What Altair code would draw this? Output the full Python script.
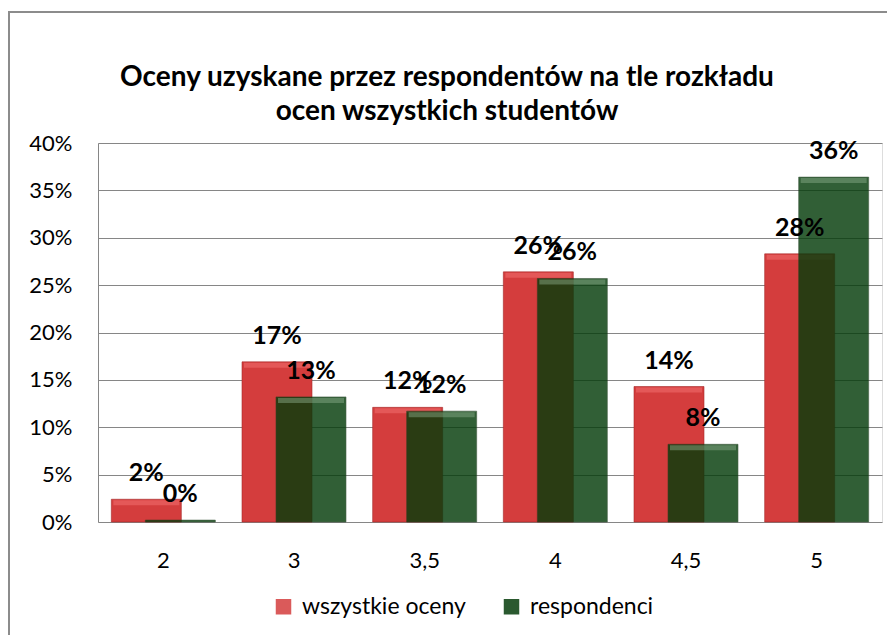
import altair as alt
import pandas as pd

categories = ["2", "3", "3,5", "4", "4,5", "5"]
wszystkie = [0.024, 0.169, 0.121, 0.264, 0.143, 0.283]
respondenci = [0.002, 0.132, 0.117, 0.257, 0.082, 0.364]
series_names = ["wszystkie oceny", "respondenci"]
y_ticks = [0, 0.05, 0.10, 0.15, 0.20, 0.25, 0.30, 0.35, 0.40]
title_lines = ["Oceny uzyskane przez respondentów na tle rozkładu", "ocen wszystkich studentów"]

rows = []
for c, v in zip(categories, wszystkie):
    rows.append({"ocena": c, "seria": series_names[0], "wartosc": v})
for c, v in zip(categories, respondenci):
    rows.append({"ocena": c, "seria": series_names[1], "wartosc": v})
df = pd.DataFrame(rows)

FONT = "Lato"
W, H = 784, 379
AX = 22

color_scale = alt.Scale(domain=series_names, range=["#d43d3d", "#053c0b"])

x_enc = alt.X("ocena:N", sort=categories, title=None,
              scale=alt.Scale(paddingInner=0, paddingOuter=0),
              axis=alt.Axis(labelAngle=0, labelFontSize=AX, labelFont=FONT, labelColor="#000000",
                            labelPadding=28, domain=False, ticks=False, grid=False))
y_enc = alt.Y("wartosc:Q", title=None,
              scale=alt.Scale(domain=[0, 0.4], nice=False),
              axis=alt.Axis(values=y_ticks, format=".0%", labelFontSize=AX, labelFont=FONT,
                            labelColor="#000000", labelPadding=26, ticks=False,
                            domain=True, domainColor="#868686", gridColor="#868686",
                            gridWidth=1))

base = alt.Chart(df)
one = pd.DataFrame({"a": [0]})

frame = alt.Chart(one).mark_rect(
    fillOpacity=0, stroke="#8c8c8c", strokeWidth=2
).encode(x=alt.value(-89), x2=alt.value(W + 20), y=alt.value(-131), y2=alt.value(H + 130))

title1 = alt.Chart(one).mark_text(
    text=title_lines[0], fontSize=28, font=FONT, fontWeight="bold", color="#000000",
    align="center", baseline="middle"
).encode(x=alt.value(349), y=alt.value(-65))
title2 = alt.Chart(one).mark_text(
    text=title_lines[1], fontSize=28, font=FONT, fontWeight="bold", color="#000000",
    align="center", baseline="middle"
).encode(x=alt.value(349), y=alt.value(-31))

red = base.transform_filter(alt.datum.seria == series_names[0]).mark_bar(
    size=70, xOffset=-17, stroke="#a52a2a", strokeWidth=0.6
).encode(
    x=x_enc, y=y_enc,
    color=alt.Color("seria:N", scale=color_scale, sort=series_names,
                    legend=alt.Legend(orient="none", legendX=174, legendY=452, direction="horizontal",
                                      title=None, symbolType="square", symbolSize=240,
                                      labelFontSize=23, labelFont=FONT, labelColor="#000000",
                                      labelLimit=400, columnPadding=34, symbolStrokeWidth=0,
                                      labelOffset=7, symbolOpacity=0.85))
)
green = base.transform_filter(alt.datum.seria == series_names[1]).mark_bar(
    size=70, xOffset=17, opacity=0.82, stroke="#1e3d1e", strokeWidth=0.6
).encode(x=x_enc, y=y_enc, color=alt.Color("seria:N", scale=color_scale, sort=series_names))

red_hl = base.transform_filter(alt.datum.seria == series_names[0]).mark_tick(
    size=66, thickness=5, xOffset=-17, yOffset=3.5, color="#f07070", opacity=0.55
).encode(x=alt.X("ocena:N", sort=categories), y="wartosc:Q")
green_hl = base.transform_filter(
    (alt.datum.seria == series_names[1]) & (alt.datum.wartosc > 0.01)
).mark_tick(
    size=66, thickness=5, xOffset=17, yOffset=3.5, color="#8fb08f", opacity=0.45
).encode(x=alt.X("ocena:N", sort=categories), y="wartosc:Q")

red_lbl = base.transform_filter(alt.datum.seria == series_names[0]).mark_text(
    xOffset=-17, dy=-18, baseline="alphabetic", fontSize=25, fontWeight="bold", font=FONT, color="#000000"
).encode(x=alt.X("ocena:N", sort=categories), y="wartosc:Q", text=alt.Text("wartosc:Q", format=".0%"))
green_lbl = base.transform_filter(alt.datum.seria == series_names[1]).mark_text(
    xOffset=17, dy=-18, baseline="alphabetic", fontSize=25, fontWeight="bold", font=FONT, color="#000000"
).encode(x=alt.X("ocena:N", sort=categories), y="wartosc:Q", text=alt.Text("wartosc:Q", format=".0%"))

chart = alt.layer(frame, red, red_hl, green, green_hl, red_lbl, green_lbl, title1, title2).properties(
    width=W, height=H,
    autosize=alt.AutoSizeParams(type="none"),
    padding={"left": 90, "top": 135, "right": 5, "bottom": 113},
).configure_view(stroke=None).configure(background="white")

chart.save("out.html", embed_options={"renderer": "svg", "actions": False})
